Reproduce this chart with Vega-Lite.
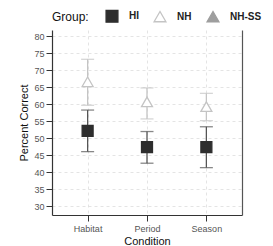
{
  "$schema": "https://vega.github.io/schema/vega-lite/v6.json",
  "width": 190,
  "height": 185,
  "autosize": {"type": "none"},
  "padding": {"left": 52, "top": 30, "right": 31, "bottom": 31},
  "background": "white",
  "config": {
    "font": "Liberation Sans",
    "view": {"stroke": null},
    "axis": {
      "labelFont": "Liberation Sans",
      "titleFont": "Liberation Sans",
      "labelColor": "#555555",
      "labelFontSize": 9,
      "titleColor": "#111111",
      "titleFontSize": 11,
      "titleFontWeight": "normal",
      "domainColor": "#333333",
      "domainWidth": 1.2,
      "tickColor": "#333333",
      "tickSize": 6,
      "gridColor": "#dddddd",
      "gridDash": [3, 3],
      "gridWidth": 0.8
    },
    "legend": {
      "orient": "none",
      "legendX": 0,
      "legendY": -21,
      "direction": "horizontal",
      "titleOrient": "left",
      "titleFont": "Liberation Sans",
      "titleFontSize": 12,
      "titleFontWeight": "normal",
      "titleColor": "#111111",
      "titlePadding": 16,
      "labelFont": "Liberation Sans",
      "labelFontSize": 10,
      "labelFontWeight": "bold",
      "labelColor": "#222222",
      "labelOffset": 10,
      "symbolSize": 140,
      "symbolStrokeWidth": 1.3,
      "columnPadding": 12
    }
  },
  "data": {
    "values": [
      {"Condition": "Habitat", "Group": "HI", "mean": 52.2, "lower": 46.1, "upper": 58.3},
      {"Condition": "Habitat", "Group": "NH", "mean": 66.6, "lower": 59.7, "upper": 73.2},
      {"Condition": "Period", "Group": "HI", "mean": 47.4, "lower": 42.7, "upper": 52.0},
      {"Condition": "Period", "Group": "NH", "mean": 60.7, "lower": 55.7, "upper": 64.8},
      {"Condition": "Season", "Group": "HI", "mean": 47.4, "lower": 41.4, "upper": 53.4},
      {"Condition": "Season", "Group": "NH", "mean": 59.3, "lower": 55.2, "upper": 63.2}
    ]
  },
  "encoding": {
    "x": {
      "field": "Condition",
      "type": "nominal",
      "scale": {"type": "point", "padding": 0.6},
      "axis": {"labelAngle": 0, "title": "Condition", "titlePadding": 2, "labelPadding": 3, "grid": true}
    }
  },
  "layer": [
    {
      "mark": {"type": "rule", "strokeWidth": 1.3},
      "encoding": {
        "y": {"field": "lower", "type": "quantitative",
          "scale": {"domain": [27.5, 81.8], "nice": false, "zero": false},
          "axis": {"orient": "left", "values": [30, 35, 40, 45, 50, 55, 60, 65, 70, 75, 80], "title": "Percent Correct", "titlePadding": 4, "grid": true, "labelPadding": 2}},
        "y2": {"field": "upper"},
        "color": {"field": "Group", "type": "nominal", "legend": null,
          "scale": {"domain": ["HI", "NH"], "range": ["#555555", "#c4c4c4"]}}
      }
    },
    {
      "mark": {"type": "tick", "size": 13, "thickness": 1.3},
      "encoding": {
        "y": {"field": "lower", "type": "quantitative", "axis": null},
        "color": {"field": "Group", "type": "nominal", "legend": null,
          "scale": {"domain": ["HI", "NH"], "range": ["#555555", "#c4c4c4"]}}
      }
    },
    {
      "mark": {"type": "tick", "size": 13, "thickness": 1.3},
      "encoding": {
        "y": {"field": "upper", "type": "quantitative", "axis": null},
        "color": {"field": "Group", "type": "nominal", "legend": null,
          "scale": {"domain": ["HI", "NH"], "range": ["#555555", "#c4c4c4"]}}
      }
    },
    {
      "mark": {"type": "point", "opacity": 1, "strokeWidth": 1.3},
      "encoding": {
        "y": {"field": "mean", "type": "quantitative", "axis": null},
        "shape": {"field": "Group", "type": "nominal",
          "scale": {"domain": ["HI", "NH", "NH-SS"], "range": ["square", "triangle-up", "triangle-up"]},
          "legend": {"title": "Group:"}},
        "fill": {"field": "Group", "type": "nominal",
          "scale": {"domain": ["HI", "NH", "NH-SS"], "range": ["#2e2e2e", "#ffffff", "#9e9e9e"]},
          "legend": {"title": "Group:"}},
        "stroke": {"field": "Group", "type": "nominal",
          "scale": {"domain": ["HI", "NH", "NH-SS"], "range": ["#2e2e2e", "#c4c4c4", "#9e9e9e"]},
          "legend": {"title": "Group:"}},
        "size": {"value": 120}
      }
    },
    {
      "mark": {"type": "point", "opacity": 0},
      "encoding": {
        "y": {"field": "mean", "type": "quantitative",
          "axis": {"orient": "right", "labels": false, "ticks": false, "title": null, "grid": false, "domainColor": "#555555"}}
      }
    }
  ],
  "resolve": {"axis": {"y": "independent"}}
}
